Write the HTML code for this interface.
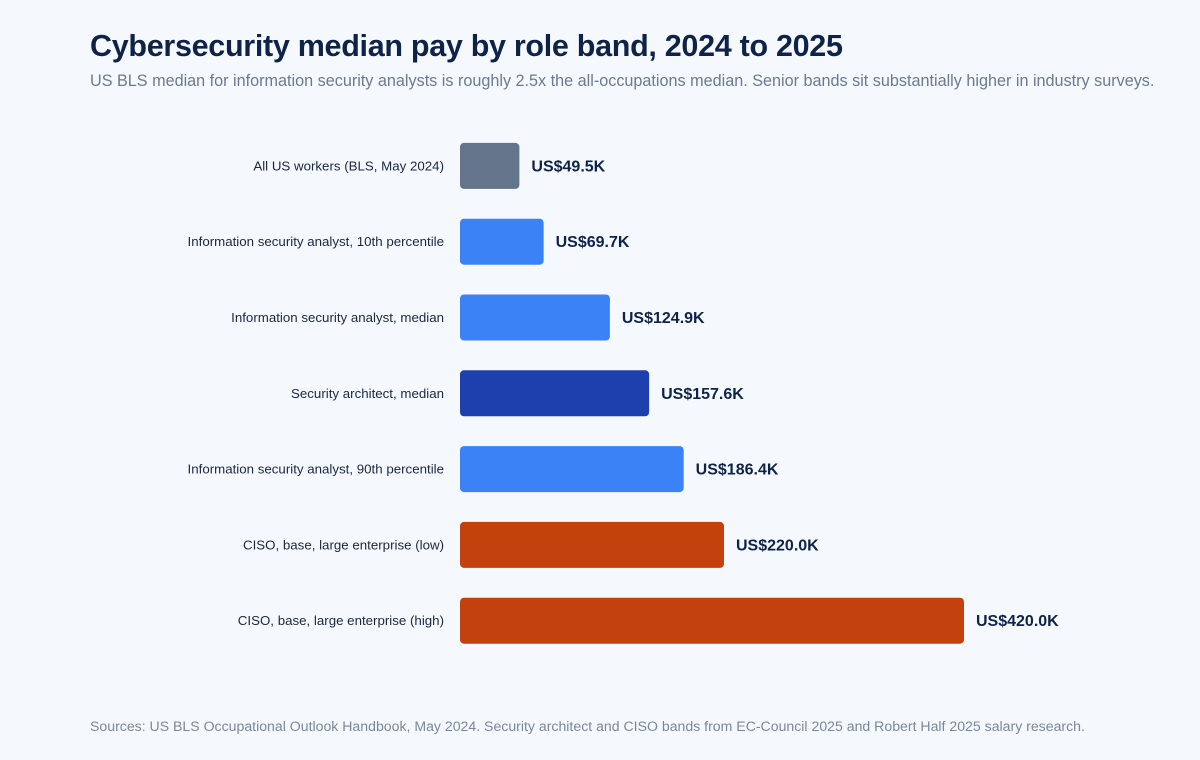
<!DOCTYPE html>
<html><head><meta charset="utf-8">
<style>
html,body{margin:0;padding:0;background:#f5f9fe;}
body{width:1200px;height:760px;position:relative;font-family:"Liberation Sans",Arial,sans-serif;overflow:hidden;}
#title{position:absolute;left:90px;top:29px;font-size:30.5px;font-weight:bold;color:#0f2346;letter-spacing:-0.3px;white-space:nowrap;}
#sub{position:absolute;left:90px;top:72px;font-size:16.2px;color:#6b7a90;white-space:nowrap;}
#foot{position:absolute;left:90px;top:718px;font-size:14.1px;color:#7b8799;white-space:nowrap;}
svg{position:absolute;left:0;top:0;}
</style></head><body>
<div id="title">Cybersecurity median pay by role band, 2024 to 2025</div>
<div id="sub">US BLS median for information security analysts is roughly 2.5x the all-occupations median. Senior bands sit substantially higher in industry surveys.</div>
<svg id="chart" width="1200" height="760"></svg>
<div id="foot">Sources: US BLS Occupational Outlook Handbook, May 2024. Security architect and CISO bands from EC-Council 2025 and Robert Half 2025 salary research.</div>
<script>
const categories=["All US workers (BLS, May 2024)","Information security analyst, 10th percentile","Information security analyst, median","Security architect, median","Information security analyst, 90th percentile","CISO, base, large enterprise (low)","CISO, base, large enterprise (high)"];
const values=[49.5,69.7,124.9,157.6,186.4,220.0,420.0];
const colors=["#64748b","#3b82f6","#3b82f6","#1e40af","#3b82f6","#c2410c","#c2410c"];
const ns="http://www.w3.org/2000/svg";
const svg=document.getElementById('chart');
const x0=460,x1=964,maxV=420;
const xs=v=>x0+(v/maxV)*(x1-x0);
const yTop=128,band=75.8,barH=46;
const yc=i=>yTop+band*i+band/2;
categories.forEach((c,i)=>{
  const r=document.createElementNS(ns,'rect');
  r.setAttribute('x',x0);r.setAttribute('y',yc(i)-barH/2);
  r.setAttribute('width',xs(values[i])-x0);r.setAttribute('height',barH);
  r.setAttribute('rx',4);r.setAttribute('fill',colors[i]);
  
  
  svg.appendChild(r);
  const t=document.createElementNS(ns,'text');
  t.setAttribute('x',444);t.setAttribute('y',yc(i)+4.5);
  t.setAttribute('text-anchor','end');t.setAttribute('font-size','13.3');t.setAttribute('fill','#1a2740');
  t.textContent=c;
  
  
  svg.appendChild(t);
  const v=document.createElementNS(ns,'text');
  v.setAttribute('x',xs(values[i])+12);v.setAttribute('y',yc(i)+5.5);
  v.setAttribute('font-size','16');v.setAttribute('font-weight','bold');v.setAttribute('fill','#0f2346');
  v.textContent='US$'+values[i].toFixed(1)+'K';
  
  
  svg.appendChild(v);
});
</script>
</body></html>
